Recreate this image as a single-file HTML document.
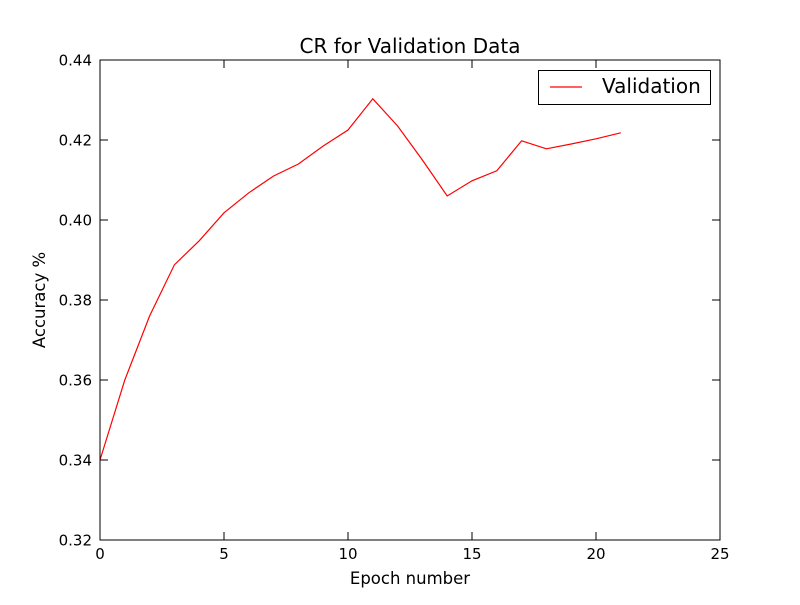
<!DOCTYPE html>
<html><head><meta charset="utf-8"><style>
html,body{margin:0;padding:0;background:#fff;}
svg text{font-family:"DejaVu Sans","Liberation Sans",sans-serif;}
</style></head><body>
<svg id="chart" width="800" height="600" xmlns="http://www.w3.org/2000/svg">
<rect x="0" y="0" width="800" height="600" fill="#fff"/>
<text x="410" y="53" font-size="20" text-anchor="middle">CR for Validation Data</text>
<text x="410" y="584" font-size="16.5" text-anchor="middle">Epoch number</text>
<text x="45" y="300" font-size="16.5" text-anchor="middle" transform="rotate(-90 45 300)">Accuracy %</text>
<g id="ticks"></g>
<polyline id="line" fill="none" stroke="#ff0000" stroke-width="1.2"/>
<rect x="100" y="60" width="620" height="480" fill="none" stroke="#000" stroke-width="1"/>
<g>
<rect x="538.5" y="70.5" width="172" height="34" fill="#fff" stroke="#000" stroke-width="1"/>
<line x1="550" y1="87" x2="582" y2="87" stroke="#ff0000" stroke-width="1.2"/>
<text x="602" y="93" font-size="20">Validation</text>
</g>
</svg>
<script>
const epochs=[0,1,2,3,4,5,6,7,8,9,10,11,12,13,14,15,16,17,18,19,20,21];
const accuracy=[0.340,0.360,0.376,0.3888,0.3948,0.4018,0.4068,0.411,0.414,0.4185,0.4225,0.4303,0.4235,0.415,0.406,0.4098,0.4123,0.4198,0.4178,0.419,0.4203,0.4218];
const xTicks=[0,5,10,15,20,25];
const yTicks=[0.32,0.34,0.36,0.38,0.40,0.42,0.44];
const X=v=>100+(v-0)/(25-0)*620;
const Y=v=>540-(v-0.32)/(0.44-0.32)*480;
const ns="http://www.w3.org/2000/svg";
const line=document.getElementById('line');
line.setAttribute('points',epochs.map((e,i)=>X(e)+','+Y(accuracy[i])).join(' '));
const g=document.getElementById('ticks');
function mk(tag,attrs){const el=document.createElementNS(ns,tag);for(const k in attrs)el.setAttribute(k,attrs[k]);g.appendChild(el);return el;}
xTicks.forEach(t=>{
  const x=X(t);
  mk('line',{x1:x,y1:540,x2:x,y2:532,stroke:'#000'});
  mk('line',{x1:x,y1:60,x2:x,y2:68,stroke:'#000'});
  const tx=mk('text',{x:x,y:559,'font-size':15,'text-anchor':'middle'});
  tx.textContent=t;
  
  
});
yTicks.forEach(t=>{
  const y=Y(t);
  mk('line',{x1:100,y1:y,x2:108,y2:y,stroke:'#000'});
  mk('line',{x1:720,y1:y,x2:712,y2:y,stroke:'#000'});
  const tx=mk('text',{x:92,y:y+5.5,'font-size':15,'text-anchor':'end'});
  tx.textContent=t.toFixed(2);
  
  
});
</script>
</body></html>
